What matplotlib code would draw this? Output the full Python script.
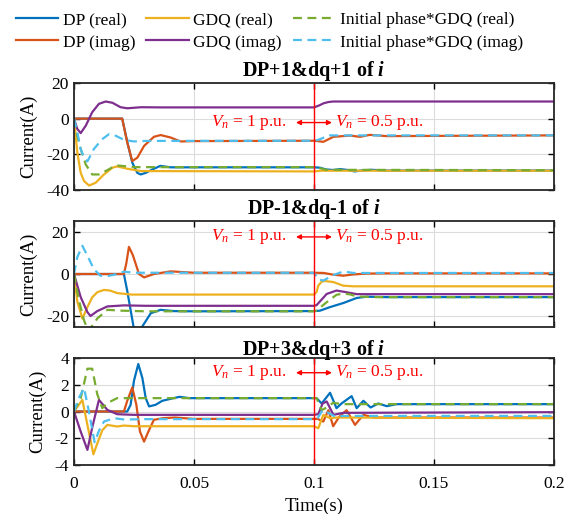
import numpy as np
from matplotlib import pyplot as plt

plt.rcParams['font.family'] = ['Liberation Serif', 'DejaVu Serif']
plt.rcParams['mathtext.fontset'] = 'custom'
plt.rcParams['mathtext.rm'] = 'Liberation Serif'
plt.rcParams['mathtext.it'] = 'Liberation Serif:italic'
plt.rcParams['mathtext.bf'] = 'Liberation Serif:bold'
plt.rcParams['mathtext.bfit'] = 'Liberation Serif:italic:bold'
plt.rcParams['axes.unicode_minus'] = False

# colours (MATLAB defaults)
c_blue = '#0072BD'
c_orange = '#D95319'
c_yellow = '#EDB120'
c_purple = '#7E2F8E'
c_green = '#77AC30'
c_cyan = '#4DBEEE'

labels = ['DP (real)', 'DP (imag)', 'GDQ (real)', 'GDQ (imag)',
          'Initial phase*GDQ (real)', 'Initial phase*GDQ (imag)']

titles = [r'DP+1&dq+1 of $\mathbfit{i}$', r'DP-1&dq-1 of $\mathbfit{i}$',
          r'DP+3&dq+3 of $\mathbfit{i}$']

# ---- panel 1 : DP+1 & dq+1 ----
t1_dp_re = [0, 0.0201, 0.0222, 0.0243, 0.0264, 0.0278, 0.0299, 0.0333, 0.036, 0.0403, 0.045,
            0.1, 0.1025, 0.105, 0.108, 0.111, 0.114, 0.117, 0.12, 0.124, 0.13, 0.2]
y1_dp_re = [0, 0, -13, -24.7, -30.4, -31.3, -30.4, -28.1, -26.5, -27.3, -27.3,
            -27.3, -27.5, -28.5, -28.8, -28.3, -28.8, -29.6, -29, -28.7, -29.1, -29.1]
t1_dp_im = [0, 0.0201, 0.0222, 0.0243, 0.0264, 0.0292, 0.0333, 0.0361, 0.0403, 0.0444, 0.05,
            0.1, 0.1015, 0.1039, 0.1081, 0.115, 0.1192, 0.1233, 0.1303, 0.2]
y1_dp_im = [0, 0, -13.4, -23.8, -21.9, -15.3, -10.2, -9.2, -10.6, -12.8, -12.6,
            -12.4, -12.6, -13, -10.2, -9.5, -10.2, -9.1, -9.8, -9.4]
t1_gdq_re = [0, 0.0014, 0.0028, 0.0042, 0.0063, 0.009, 0.0125, 0.016, 0.018, 0.0222, 0.028,
             0.1, 0.103, 0.2]
y1_gdq_re = [0, -19, -30.4, -35, -37.5, -36, -31.3, -27.5, -26.8, -28.1, -29.4,
             -29.6, -29.2, -29.2]
t1_gdq_im = [0, 0.0014, 0.0028, 0.0049, 0.0076, 0.0104, 0.0132, 0.016, 0.0194, 0.0222, 0.028, 0.036,
             0.1, 0.102, 0.104, 0.106, 0.108, 0.2]
y1_gdq_im = [0, -5.8, -8.1, -4, 3.6, 8.3, 9.6, 8.9, 6.4, 5.8, 6.4, 6.3,
             6.3, 7.3, 8.6, 9.3, 9.6, 9.6]
t1_ip_re = [0, 0.0014, 0.0028, 0.0049, 0.0076, 0.0104, 0.0139, 0.0174, 0.0208, 0.025,
            0.1, 0.102, 0.105, 0.2]
y1_ip_re = [0, -9.6, -17, -25.7, -31.3, -31.3, -28.9, -26.2, -26.6, -27.2,
            -27.2, -27.6, -28.7, -28.9]
t1_ip_im = [0, 0.0014, 0.0028, 0.0042, 0.0056, 0.0083, 0.0118, 0.0146, 0.0174, 0.0208, 0.025, 0.03,
            0.1, 0.1015, 0.1035, 0.106, 0.2]
y1_ip_im = [0, -7.7, -17, -21.9, -24, -17, -11.5, -8.7, -9.6, -11.9, -12.8, -12.5,
            -12.4, -12.0, -11, -9.4, -9.4]

# ---- panel 2 : DP-1 & dq-1 ----
t2_dp_re = [0, 0.0208, 0.0222, 0.0236, 0.025, 0.0264, 0.0285, 0.032, 0.0361, 0.0417, 0.05,
            0.1, 0.1025, 0.1067, 0.1122, 0.1178, 0.122, 0.13, 0.2]
y2_dp_re = [0, 0, -8, -17, -26, -29, -24.7, -18.5, -16.9, -17.5, -17.6,
            -17.5, -17.3, -15.6, -13.7, -11.3, -10.7, -10.9, -10.9]
t2_dp_im = [0, 0.0208, 0.0218, 0.0229, 0.0245, 0.0271, 0.0292, 0.0333, 0.0403, 0.05,
            0.1, 0.104, 0.108, 0.1122, 0.1164, 0.122, 0.13, 0.2]
y2_dp_im = [0, 0, 5, 12.8, 9, 0, -1.6, 0, 1.25, 0.6,
            0.6, 0.5, -0.3, -0.8, -0.2, 0.2, 0.3, 0.3]
t2_gdq_re = [0, 0.0014, 0.0035, 0.0056, 0.0076, 0.0097, 0.0125, 0.015, 0.018, 0.024,
             0.1, 0.1011, 0.1018, 0.1032, 0.1046, 0.1081, 0.1122, 0.1164, 0.122, 0.2]
y2_gdq_re = [0, -13, -21, -15.6, -11, -8.6, -7.5, -7.8, -9, -9.7,
             -9.7, -8.5, -5.5, -3.6, -3.3, -3.8, -5.5, -5.8, -5.8, -5.8]
t2_gdq_im = [0, 0.0028, 0.0056, 0.0069, 0.0097, 0.0139, 0.0208, 0.03,
             0.1, 0.1011, 0.1053, 0.1094, 0.1136, 0.1178, 0.125, 0.2]
y2_gdq_im = [0, -10.9, -18, -19.8, -17.5, -15.3, -14.8, -15,
             -15, -14.7, -9.4, -7.8, -8.6, -9.5, -9.5, -9.5]
t2_ip_re = [0, 0.0021, 0.0042, 0.006, 0.0097, 0.0139, 0.02, 0.03,
            0.1, 0.1011, 0.1053, 0.1094, 0.1122, 0.115, 0.1178, 0.125, 0.2]
y2_ip_re = [0, -12.5, -21.9, -27, -21, -16.9, -17.3, -17.6,
            -17.6, -17.2, -13.3, -9.8, -9.2, -9.6, -10.6, -10.9, -10.9]
t2_ip_im = [0, 0.0014, 0.0035, 0.0056, 0.0083, 0.011, 0.0139, 0.018, 0.0208, 0.025,
            0.1, 0.1018, 0.1039, 0.1081, 0.1122, 0.1164, 0.2]
y2_ip_im = [0, 8, 13.3, 8.6, 2.3, -0.8, -1.0, 0, 1.1, 0.6,
            0.6, -2.5, -3.1, -0.5, 1.2, 0.5, 0.5]

# ---- panel 3 : DP+3 & dq+3 ----
t3_dp_re = [0, 0.0222, 0.0236, 0.025, 0.0268, 0.0285, 0.0299, 0.0313, 0.034, 0.0368, 0.0403, 0.044, 0.048,
            0.1, 0.1011, 0.1032, 0.1067, 0.1094, 0.1115, 0.1157, 0.1178, 0.1206, 0.1236, 0.1268, 0.1303,
            0.1344, 0.2]
y3_dp_re = [0, 0, 0.5, 2.3, 3.55, 2.5, 1.0, 0.38, 0.5, 0.8, 0.95, 1.1, 1.0,
            1.0, 1.0, 0.6, 1.4, 0.25, 0.6, 1.15, 0.25, 0.8, 0.3, 0.6, 0.4,
            0.55, 0.55]
t3_dp_im = [0, 0.0208, 0.0222, 0.0243, 0.026, 0.0275, 0.0292, 0.031, 0.0333, 0.037, 0.042, 0.05,
            0.1, 0.1015, 0.1039, 0.106, 0.108, 0.1105, 0.1136, 0.1171, 0.1206, 0.125, 0.2]
y3_dp_im = [0, 0, 0.8, 1.8, 0.5, -1.5, -2.25, -1.5, -0.62, -0.5, -0.45, -0.55,
            -0.55, -0.55, -0.75, 0.1, -1.1, -0.4, 0.1, -1.0, -0.25, -0.45, -0.45]
t3_gdq_re = [0, 0.0035, 0.0056, 0.0081, 0.0097, 0.0118, 0.0139, 0.018, 0.0208, 0.025,
             0.1, 0.1018, 0.1039, 0.1067, 0.1094, 0.2]
y3_gdq_re = [0, 0.87, -1.0, -3.2, -2.4, -1.4, -1.0, -1.12, -1.05, -1.1,
             -1.1, -1.25, -0.25, -0.5, -0.45, -0.5]
t3_gdq_im = [0, 0.0028, 0.0056, 0.0076, 0.0104, 0.0139, 0.018, 0.025,
             0.1, 0.1018, 0.1036, 0.1053, 0.1081, 0.1122, 0.2]
y3_gdq_im = [0, -1.5, -2.87, -1.2, 0.87, 0.12, -0.2, -0.25,
             -0.25, -0.2, 0.6, 0.75, -0.25, -0.1, -0.05]
t3_ip_re = [0, 0.0028, 0.0056, 0.0076, 0.0097, 0.0118, 0.0139, 0.018,
            0.1, 0.1011, 0.1032, 0.1053, 0.108, 0.112, 0.2]
y3_ip_re = [0, 1.0, 3.2, 3.2, 1.3, 0.25, 0.63, 1.0,
            1.0, 1.0, 0.1, 0.3, 0.65, 0.55, 0.55]
t3_ip_im = [0, 0.002, 0.0042, 0.006, 0.0086, 0.0105, 0.0125, 0.0167, 0.021, 0.03,
            0.1, 0.1015, 0.1036, 0.106, 0.109, 0.112, 0.2]
y3_ip_im = [0, 1.0, 1.75, 0.2, -2.3, -1.4, -0.75, -0.5, -0.6, -0.57,
            -0.57, -0.5, 0.1, -0.1, -0.4, -0.33, -0.33]

panels = [
    [(t1_dp_re, y1_dp_re), (t1_dp_im, y1_dp_im), (t1_gdq_re, y1_gdq_re),
     (t1_gdq_im, y1_gdq_im), (t1_ip_re, y1_ip_re), (t1_ip_im, y1_ip_im)],
    [(t2_dp_re, y2_dp_re), (t2_dp_im, y2_dp_im), (t2_gdq_re, y2_gdq_re),
     (t2_gdq_im, y2_gdq_im), (t2_ip_re, y2_ip_re), (t2_ip_im, y2_ip_im)],
    [(t3_dp_re, y3_dp_re), (t3_dp_im, y3_dp_im), (t3_gdq_re, y3_gdq_re),
     (t3_gdq_im, y3_gdq_im), (t3_ip_re, y3_ip_re), (t3_ip_im, y3_ip_im)],
]
ylims = [(-40, 20), (-25, 25), (-4, 4)]
yticks = [[-40, -20, 0, 20], [-20, 0, 20], [-4, -2, 0, 2, 4]]
ann_y = [-2.2, 17.5, 2.9]

colors = [c_blue, c_orange, c_yellow, c_purple, c_green, c_cyan]
styles = ['-', '-', '-', '-', '--', '--']

fig = plt.figure(figsize=(5.82, 5.14), dpi=100)
axes_pos = [[0.1271, 0.6304, 0.8247, 0.2082],
            [0.1271, 0.3638, 0.8247, 0.2062],
            [0.1271, 0.0953, 0.8247, 0.2082]]

handles = []
for k in range(3):
    ax = fig.add_axes(axes_pos[k])
    for (tt, yy), col, ls, lab in zip(panels[k], colors, styles, labels):
        if ls == '--':
            ln, = ax.plot(tt, yy, color=col, lw=1.6, dashes=(4, 2.5), label=lab)
        else:
            ln, = ax.plot(tt, yy, color=col, lw=1.6, label=lab)
        if k == 0:
            handles.append(ln)
    ax.axvline(0.1, color='#FF0000', lw=1.0)
    ax.text(0.0885, ann_y[k], r'$V_n$ = 1 p.u.', color='#FF0000', fontsize=12.5,
            ha='right', va='center')
    ax.annotate('', xy=(0.0925, ann_y[k]), xytext=(0.1075, ann_y[k]),
                arrowprops=dict(arrowstyle='<|-|>', color='#FF0000', lw=1.0,
                                mutation_scale=7, shrinkA=0, shrinkB=0))
    ax.text(0.1088, ann_y[k], r'$V_n$ = 0.5 p.u.', color='#FF0000', fontsize=12.5,
            ha='left', va='center')

    ax.set_xlim(0, 0.2)
    ax.set_ylim(*ylims[k])
    ax.set_yticks(yticks[k])
    ax.set_xticks([0, 0.05, 0.1, 0.15, 0.2])
    if k == 2:
        ax.set_xticklabels(['0', '0.05', '0.1', '0.15', '0.2'])
        ax.set_xlabel('Time(s)', fontsize=13.5, labelpad=4)
    else:
        ax.set_xticklabels([])
    ax.set_ylabel('Current(A)', fontsize=13.5, labelpad=6)
    ax.set_title(titles[k], fontsize=14.5, fontweight='bold', pad=2.5)
    ax.grid(True, color='#dcdcdc', lw=0.8)
    ax.set_axisbelow(True)
    ax.tick_params(direction='in', top=True, right=True, labelsize=12.5, length=4, width=1.0)
    ax.tick_params(axis='x', pad=8)
    for sp in ax.spines.values():
        sp.set_linewidth(1.3)
        sp.set_color('#262626')

fig.legend(handles=handles, labels=labels, ncol=3, loc='upper left',
           bbox_to_anchor=(0.006, 1.0), frameon=False, fontsize=12.5,
           handlelength=2.45, handletextpad=0.25, columnspacing=0.65,
           labelspacing=0.35, borderaxespad=0.3)

fig.savefig('out.png', dpi=100)
